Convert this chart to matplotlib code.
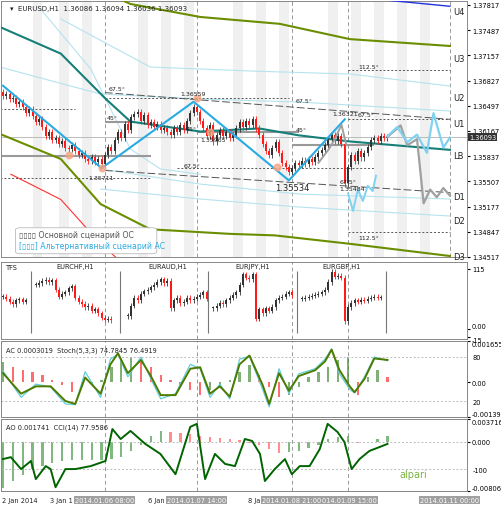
import matplotlib
matplotlib.use("Agg")
import matplotlib.pyplot as plt
import numpy as np
from matplotlib.patches import FancyBboxPatch

# ---------------- data ----------------
closes = [1.3662,1.3665,1.3658,1.3660,1.3652,1.3655,1.3648,1.3640,1.3645,1.3636,1.3628,1.3632,1.3622,1.3610,1.3615,1.3605,1.3608,1.3600,1.3603,1.3595,1.3593,
          1.3598,1.3590,1.3585,1.3588,1.3580,1.3578,1.3582,1.3576,1.3580,1.3574,
          1.3585,1.3596,1.3590,1.3605,1.3615,1.3608,1.3626,1.3618,1.3635,1.3639,
          1.3642,1.3630,1.3638,1.3625,1.3628,1.3622,1.3626,1.3618,1.3620,1.3615,1.3612,1.3620,1.3616,1.3625,1.3618,1.3630,1.3640,1.3648,
          1.3642,1.3630,1.3620,1.3610,1.3625,1.3603,1.3612,
          1.3618,1.3610,1.3615,1.3608,1.3612,1.3620,1.3628,1.3622,1.3630,1.3625,1.3632,
          1.3620,1.3612,1.3600,1.3590,1.3585,1.3595,1.3602,1.3588,1.3575,1.3570,1.3563,1.3568,
          1.3575,1.3572,1.3578,1.3574,1.3580,1.3576,1.3582,1.3588,1.3592,1.3598,1.3606,1.3612,1.3604,1.3610,
          1.3600,1.3548,1.3570,
          1.3585,1.3578,1.3590,1.3582,1.3588,1.3596,1.3605,1.3608,1.3604,1.3610,1.3607,1.3609]
first_open = 1.3668

zigzag_x = [0, 30, 58, 87, 104]
zigzag_p = [1.3676, 1.3568, 1.3655, 1.3552, 1.3632]

oc_x = [117, 121, 123, 126, 128, 130, 132, 134, 136]
oc_p = [1.3609, 1.3624, 1.3598, 1.3606, 1.3522, 1.3540, 1.3530, 1.3542, 1.3532]
ac_fx = [117, 120, 123, 126, 129, 131, 134, 136]
ac_fp = [1.3610, 1.3622, 1.3602, 1.3612, 1.3588, 1.3640, 1.3595, 1.3608]
oc2_x = [96, 99, 101, 103, 104.5]
oc2_p = [1.3575, 1.3592, 1.3606, 1.3625, 1.3598]
ac2_x = [105, 106.5, 108, 109.5, 111, 112.5, 113.5]
ac2_p = [1.3535, 1.3512, 1.3540, 1.3525, 1.3545, 1.3538, 1.3558]

ma_x = [-1, 17.6, 31.2, 38.8, 60, 78, 90, 105.5, 136]
ma_p = [1.3753, 1.3718, 1.3659, 1.3629, 1.3616, 1.3620, 1.3611, 1.3603, 1.3592]
olu_x = [30, 38.8, 60, 84.2, 105.5, 136]
olu_p = [1.3800, 1.3783, 1.3766, 1.3757, 1.3737, 1.3728]
oll_x = [-1, 17.6, 29.7, 44.8, 69, 82.7, 105.5, 136]
oll_p = [1.3613, 1.3580, 1.3521, 1.3488, 1.3482, 1.3480, 1.3469, 1.3453]
red_x = [2.4, 17.6, 29.7, 36]
red_p = [1.3560, 1.3527, 1.3469, 1.3445]
blue_x = [112, 136]
blue_p = [1.3790, 1.3780]
lb_lines = [
    ([17.6, 44.8, 75.2, 105.5, 136], [1.37634, 1.37005, 1.36952, 1.36913, 1.36756]),
    ([-1, 29.7, 60, 90.3, 136], [1.37005, 1.36651, 1.36586, 1.36546, 1.36428]),
    ([29.7, 60, 90.3, 136], [1.35669, 1.35472, 1.35341, 1.35276]),
    ([29.7, 60, 90.3, 136], [1.35407, 1.35276, 1.35171, 1.35053]),
    ([11.5, 26.7, 38.8, 47.9, 60], [1.3776, 1.3698, 1.3593, 1.3567, 1.3560]),
]
stripes = [9, 17, 24, 41, 48, 55, 70, 77, 84, 99, 106, 113, 120, 127]

price_ticks = [1.37817,1.37487,1.37157,1.36827,1.36497,1.36167,1.35837,1.35507,1.35177,1.34847,1.34517]
level_names = ["U4","U3","U2","U1","LB","D1","D2","D3"]
level_p = [1.3773, 1.3712, 1.3660, 1.3627, 1.3584, 1.3531, 1.3499, 1.3452]

tfs_groups = [
    ("TFS", 0, [62,58,52,47,55,57,52,55]),
    ("EURCHF,H1", 10, [85,88,92,94,90,93,75,62,68,70,78,82,60,52,48,42,45,35,38,30,22,18,20,17]),
    ("EURAUD,H1", 38, [25,45,60,55,68,72,75,80,85,90,95,88,92,40,55,60,50,52,60,55,58,62,65,70,58]),
    ("EURJPY,H1", 64, [40,45,50,48,55,60,65,70,85,105,98,95,105,20,38,30,40,35,42,55,60,62,68,70,65]),
    ("EURGBP,H1", 91, [58,60,62,64,66,68,70,75,90,110,100,102,98,15,42,50,55,52,56,54,58,60,62,60,61]),
]
tfs_dividers = [8.5, 35.5, 62.5, 89.5, 116.5]

ac_vals = [8,6,5,4,3,1,-1,-4,-2,-1,1,6,9,10,8,6,3,1,-1,-3,-5,-3,-2,1,4,7,3,-2,-6,-5,-2,2,4,6,9,10,-5,2,5,2]
stoch_x = [0,5.5,10,14.5,19,22,25,29.7,32.7,35,38,42,45,48,52.5,57,60,63,66,69,72,75,79,81,84,87,90,95,98,100,102.4,105.5,107,110,113,117]
stoch_v = [61,25,43,39,16,15,60,25,77,84,53,80,50,23,30,70,64,25,43,23,77,81,36,12,64,30,57,64,77,91,57,36,31,53,80,75]
signal_v = [58,30,40,40,20,16,52,30,70,85,58,76,54,28,28,64,66,30,40,26,70,82,42,16,58,34,54,62,74,90,62,40,32,50,78,76]
ao_vals = [-75,-65,-55,-45,-40,-35,-32,-30,-30,-30,-30,-28,-25,-15,-5,10,18,16,14,12,10,8,6,4,2,-2,-6,-12,-18,-17,-15,-10,-5,4,8,10,-2,-1,5,10]
cci_x = [0,2.4,5.5,8.5,10,13,14.5,16,19,22,26.7,31.2,33.3,35.8,38.8,43.3,47.9,52.5,57,59,61.5,64.5,67.6,70.6,73.6,75.8,78.2,79.7,82.7,85.8,87.9,90.3,93.3,96.4,98.8,101.8,103.9,106.1,108.5,111.5,114.5,117]
cci_v = [-63,-56,-100,-70,-137,-89,-100,-167,-100,-100,-89,-70,48,11,41,-7,-44,-119,56,67,-137,-44,-81,-89,11,4,-44,-144,-100,-63,-119,-89,-89,-26,67,37,0,-100,-63,-33,-19,-7]

XL = (-0.6, 141.2)
FS = 4.8
fig = plt.figure(figsize=(5.02, 5.10), dpi=100)
fig.patch.set_facecolor("white")

def mk(top, bottom):
    return fig.add_axes([0.002, 1 - bottom/510, 466/502, (bottom - top)/510])

def edge_align(a):
    labs = a.get_yticklabels()
    labs[0].set_va("top")
    labs[-1].set_va("bottom")

ax = mk(2, 258)
ax.set_xlim(*XL)
ax.set_ylim(1.34517, 1.37869)
for s in stripes:
    ax.axvspan(s, s + 3, color="#f0f0f0", zorder=0, lw=0)
for v in [31, 59, 88, 105, 136]:
    ax.axvline(v, color="#999", ls=(0, (4, 3)), lw=0.7, zorder=1)

for xs, ps in lb_lines:
    ax.plot(xs, ps, color="#b5e3ee", lw=0.8, zorder=2)
ax.plot(ma_x, ma_p, color="#157f79", lw=1.5, zorder=3)
ax.plot(olu_x, olu_p, color="#6b8e00", lw=1.5, zorder=3)
ax.plot(oll_x, oll_p, color="#6b8e00", lw=1.5, zorder=3)
ax.plot(red_x, red_p, color="#ff3030", lw=0.8, zorder=3)
ax.plot(blue_x, blue_p, color="#2233dd", lw=1.0, zorder=3)

ax.hlines([1.3629, 1.3615, 1.3598], [31, 59, 88], [40, 90, 113], color="#999", lw=1.5, zorder=2)
ax.hlines([1.3584], [-1], [45], color="#999", lw=1.5, zorder=2)
ax.hlines([1.3645, 1.3555, 1.3660, 1.3568, 1.3632, 1.3696, 1.3485],
          [-1, -1, 31, 53, 105, 105, 105], [22, 45, 87, 113, 136, 136, 136],
          color="#555", ls=(0, (2, 2)), lw=0.7, zorder=2)
ax.plot([31, 136], [1.3667, 1.3632], color="#555", ls=(0, (8, 3)), lw=0.7, zorder=2)
ax.plot([31, 136], [1.3565, 1.3536], color="#555", ls=(0, (8, 3)), lw=0.7, zorder=2)
ax.axhline(1.36093, color="#bbb", lw=0.7, zorder=2)

opens = [first_open] + closes[:-1]
for i, (o, c) in enumerate(zip(opens, closes)):
    col = "#333333" if c >= o else "#ff1a1a"
    ax.vlines(i, min(o, c) - 0.0004, max(o, c) + 0.0004, color=col, lw=0.6, zorder=4)
    ax.bar(i, max(abs(c - o), 0.00006), bottom=min(o, c), width=0.6, color=col, zorder=5, lw=0)

ax.plot(zigzag_x, zigzag_p, color="#29abe2", lw=1.5, zorder=6)
ax.plot(oc_x, oc_p, color="#a0a0a0", lw=1.6, zorder=6)
ax.plot(ac_fx, ac_fp, color="#7fd3f0", lw=1.6, zorder=6)
ax.plot(oc2_x, oc2_p, color="#a0a0a0", lw=1.4, zorder=6)
ax.plot(ac2_x, ac2_p, color="#7fd3f0", lw=1.4, zorder=6)
ax.scatter([20, 30, 59, 63, 83.5], [1.3585, 1.3568, 1.3660, 1.3616, 1.3569], s=22, color="#f4a582", zorder=7, alpha=0.8)

t = dict(fontsize=4.5, color="#222", zorder=8)
ax.text(32, 1.3671, "67.5°", **t); ax.text(31.5, 1.3633, "45°", **t)
ax.text(58, 1.3664, "1.36559", ha="center", **t)
ax.text(59, 1.3618, "45°", ha="right", **t); ax.text(60, 1.3603, "1.35965", **t)
ax.text(30, 1.3554, "1.35711", ha="center", **t)
ax.text(55, 1.3570, "67.5°", **t)
ax.text(89, 1.3655, "67.5°", **t); ax.text(89, 1.3617, "45°", **t)
ax.text(104, 1.3637, "1.36321", ha="center", **t)
ax.text(108, 1.3636, "67.5°", **t)
ax.text(88, 1.3540, "1.35534", ha="center", fontsize=6, color="#222", zorder=8)
ax.text(102.5, 1.3548, "67.5°", **t); ax.text(102.5, 1.3539, "1.35484", **t)
ax.text(108, 1.3699, "112.5°", **t); ax.text(108, 1.3475, "112.5°", **t)
for n, p in zip(level_names, level_p):
    ax.text(137, p, n, fontsize=6, va="center", color="#222", zorder=8)
ax.text(0.02, 0.985, "▾  EURUSD,H1  1.36086 1.36094 1.36036 1.36093", transform=ax.transAxes,
        fontsize=5, va="top", color="#222")
ax.add_patch(FancyBboxPatch((3.8, 1.3456), 43, 0.0034, boxstyle="round,pad=0,rounding_size=1.5",
                            mutation_aspect=0.0002, fc="white", ec="#bbb", lw=0.6, zorder=9))
ax.text(5, 1.3481, "▯▯▯▯ Основной сценарий ОС", fontsize=5.6, color="#555", zorder=10, va="center")
ax.text(5, 1.3467, "[▯▯▯] Альтернативный сценарий АС", fontsize=5.6, color="#29abe2", zorder=10, va="center")

ax.yaxis.tick_right()
ax.set_yticks(price_ticks)
ax.set_yticklabels([f"{p:.5f}" for p in price_ticks], fontsize=FS)
ax.set_xticks([])
ax.tick_params(axis="y", length=2, pad=1.5)
ax.text(1.004, (1.36093 - 1.34517) / (1.37869 - 1.34517), "1.36093", transform=ax.transAxes, fontsize=FS,
        color="white", va="center", bbox=dict(boxstyle="square,pad=0.15", fc="#333", ec="none"), clip_on=False)

ax2 = mk(263, 340)
ax2.set_xlim(*XL); ax2.set_ylim(-19.2, 128.4)
for name, start, cl in tfs_groups:
    op = [cl[0]] + cl[:-1]
    for k, (o, c) in enumerate(zip(op, cl)):
        i = start + k
        col = "#333333" if c >= o else "#ff1a1a"
        ax2.vlines(i, min(o, c) - 5, max(o, c) + 5, color=col, lw=0.6)
        ax2.bar(i, max(abs(c - o), 1.5), bottom=min(o, c), width=0.6, color=col, lw=0)
    if name == "TFS":
        ax2.text(1, 118, name, fontsize=FS, va="center", color="#222")
    else:
        ax2.text(start + 12, 120, name, fontsize=FS, ha="center", va="center", color="#222")
for d in tfs_dividers:
    ax2.vlines(d, -8, 112, color="#777", lw=0.8)
for v in [31, 59, 88, 105]:
    ax2.axvline(v, color="#999", ls=(0, (4, 3)), lw=0.7, zorder=0)
ax2.yaxis.tick_right(); ax2.set_yticks([115, 0, -15]); ax2.set_yticklabels(["115", "0.00", "-15"], fontsize=FS)
ax2.get_yticklabels()[1].set_va("bottom"); ax2.get_yticklabels()[2].set_va("top")
ax2.tick_params(axis="y", length=2, pad=1.5); ax2.set_xticks([])

ax3 = mk(342, 418)
ax3b = ax3.twinx()
ax3.set_xlim(*XL); ax3.set_ylim(-0.001395, 0.001655)
acx = np.arange(len(ac_vals)) * 3
acc = ["#ff3030" if k > 0 and ac_vals[k] < ac_vals[k-1] else "#4a8f3a" for k in range(len(ac_vals))]
ax3.bar(acx, np.array(ac_vals) * 1e-4, width=0.7, color=acc, lw=0, alpha=0.7)
for v in [31, 59, 88, 105]:
    ax3.axvline(v, color="#999", ls=(0, (4, 3)), lw=0.7, zorder=0)
ax3.yaxis.tick_right(); ax3.set_yticks([0.001655, 0, -0.001395])
ax3.set_yticklabels(["0.001655", "0.00", "-0.001395"], fontsize=FS); ax3.tick_params(axis="y", length=2, pad=1.5)
edge_align(ax3)
ax3.set_xticks([])
ax3b.set_ylim(-1.8, 101.8)
ax3b.axhline(80, color="#bbb", ls=(0, (2, 2)), lw=0.7); ax3b.axhline(20, color="#bbb", ls=(0, (2, 2)), lw=0.7)
ax3b.plot(stoch_x, stoch_v, color="#5fcfd8", lw=0.9)
ax3b.plot(stoch_x, signal_v, color="#4d7a00", lw=1.4)
ax3b.set_yticks([80, 20]); ax3b.set_yticklabels(["80", "20"], fontsize=FS)
ax3b.tick_params(axis="y", length=0, pad=4)
ax3.text(0.01, 0.93, "AC 0.0003019  Stoch(5,3,3) 74.7845 76.4919", transform=ax3.transAxes,
         fontsize=FS, va="top", color="#222")

ax4 = mk(420, 492)
ax4b = ax4.twinx()
ax4.set_xlim(*XL); ax4.set_ylim(-0.008061, 0.003716)
aox = np.arange(len(ao_vals)) * 3
aoc = ["#ff6060" if k > 0 and ao_vals[k] < ao_vals[k-1] else "#4a9a4a" for k in range(len(ao_vals))]
ax4.bar(aox, np.array(ao_vals) * 1e-4, width=0.7, color=aoc, lw=0, alpha=0.7)
for v in [31, 59, 88, 105]:
    ax4.axvline(v, color="#999", ls=(0, (4, 3)), lw=0.7, zorder=0)
ax4.yaxis.tick_right(); ax4.set_yticks([0.003716, 0, -0.008061])
ax4.set_yticklabels(["0.003716", "0.000", "-0.008061"], fontsize=FS); ax4.tick_params(axis="y", length=2, pad=1.5)
edge_align(ax4)
ax4.set_xticks([])
ax4b.set_ylim(-181, 85)
ax4b.axhline(0, color="#bbb", ls=(0, (2, 2)), lw=0.7); ax4b.axhline(-100, color="#bbb", ls=(0, (2, 2)), lw=0.7)
ax4b.plot(cci_x, cci_v, color="#006400", lw=1.4)
ax4b.set_yticks([-100]); ax4b.set_yticklabels(["-100"], fontsize=FS); ax4b.tick_params(axis="y", length=0, pad=4)
ax4.text(0.01, 0.94, "AO 0.001741  CCI(14) 77.9586", transform=ax4.transAxes, fontsize=FS, va="top", color="#222")
ax4.text(0.855, 0.2, "alpari", transform=ax4.transAxes, fontsize=7, color="#7cb342")

for a in (ax, ax2, ax3, ax4, ax3b, ax4b):
    for sp in a.spines.values():
        sp.set_color("#888"); sp.set_linewidth(0.7)

yb = 1 - 501/510
for x, s in [(2, "2 Jan 2014"), (50, "3 Jan 1"), (148, "6 Jan"), (248, "8 Ja")]:
    fig.text(x/502, yb, s, fontsize=FS, va="center", color="#222")
for x, s in [(75, "2014.01.06 08:00"), (167, "2014.01.07 14:00"), (262, "2014.01.08 21:00"),
             (322, "014.01.09 15:00"), (420, "2014.01.11 00:00")]:
    fig.text(x/502, yb, s, fontsize=FS, va="center", color="white",
             bbox=dict(boxstyle="square,pad=0.15", fc="#a0a0a0", ec="none"))

fig.savefig("out.png", dpi=100)
